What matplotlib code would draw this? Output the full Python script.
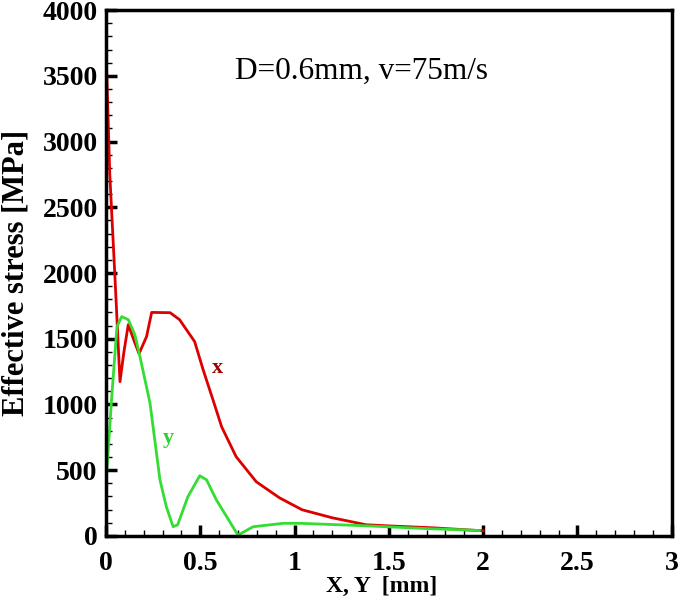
import matplotlib
matplotlib.use('Agg')
import matplotlib.pyplot as plt
from matplotlib.ticker import MultipleLocator

# curve x (red)
x_pos = [0.0, 0.02, 0.048, 0.074, 0.095, 0.118, 0.15, 0.175, 0.215, 0.242, 0.34, 0.39, 0.47,
         0.515, 0.567, 0.613, 0.69, 0.797, 0.92, 1.04, 1.2, 1.38, 1.49, 1.73, 2.0]
x_stress = [3700, 2750, 1950, 1173, 1400, 1607, 1480, 1386, 1516, 1700, 1698, 1645, 1478,
            1264, 1036, 830, 602, 411, 289, 198, 137, 84, 76, 61, 38]

# curve y (green)
y_pos = [0.0, 0.03, 0.058, 0.083, 0.118, 0.153, 0.18, 0.233, 0.286, 0.32, 0.356, 0.38, 0.434,
         0.497, 0.533, 0.585, 0.64, 0.70, 0.78, 0.94, 1.03, 1.38, 1.73, 1.89, 1.98]
y_stress = [400, 1050, 1592, 1668, 1645, 1530, 1363, 1013, 426, 221, 69, 84, 297,
            457, 426, 274, 145, 5, 69, 95, 95, 76, 53, 46, 40]

serif = 'Liberation Serif'

fig = plt.figure(figsize=(6.84, 6.0), dpi=100)
ax = fig.add_axes([0.155, 0.107, 0.827, 0.876])

ax.plot(x_pos, x_stress, color='#dd0000', lw=2)
ax.plot(y_pos, y_stress, color='#33dd33', lw=2)

ax.set_xlim(0, 3)
ax.set_ylim(0, 4000)
ax.xaxis.set_major_locator(MultipleLocator(0.5))
ax.xaxis.set_minor_locator(MultipleLocator(0.1))
ax.yaxis.set_major_locator(MultipleLocator(500))
ax.yaxis.set_minor_locator(MultipleLocator(100))
ax.set_xticks([0, 0.5, 1, 1.5, 2, 2.5, 3])
ax.set_xticklabels(['0', '0.5', '1', '1.5', '2', '2.5', '3'])
ax.tick_params(which='both', direction='in', top=False, right=False)
ax.tick_params(which='major', length=8, width=2.5)
ax.tick_params(which='minor', length=4, width=1)
ax.tick_params(axis='x', which='major', pad=11)
ax.tick_params(axis='y', which='major', pad=6)
for sp in ax.spines.values():
    sp.set_linewidth(2.5)

for lab in ax.get_xticklabels() + ax.get_yticklabels():
    lab.set_fontfamily(serif)
    lab.set_fontweight('bold')
    lab.set_fontsize(20)

ax.set_xlabel('X, Y  [mm]', fontfamily=serif, fontweight='bold', fontsize=17)
ax.xaxis.set_label_coords(0.488, -0.077)
ax.set_ylabel('Effective stress [MPa]', fontfamily=serif, fontweight='bold', fontsize=22)
ax.yaxis.set_label_coords(-0.134, 0.5)

ax.text(1.355, 3534, 'D=0.6mm, v=75m/s', fontfamily=serif, fontsize=22.5, ha='center', va='center')
ax.text(0.593, 1280, 'x', fontfamily=serif, fontweight='bold', fontsize=16, color='#a00000',
        ha='center', va='center')
ax.text(0.328, 746, 'y', fontfamily=serif, fontweight='bold', fontsize=16, color='#33cc33',
        ha='center', va='center')

fig.savefig('out.png', dpi=100)
